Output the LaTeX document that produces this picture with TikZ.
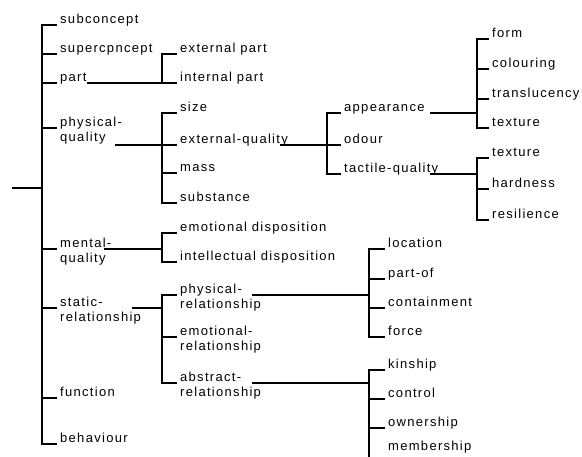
\documentclass[tikz,border=0pt]{standalone}
\usepackage{fontspec}
\newfontfamily\lblfont{Liberation Sans}[LetterSpace=10]
\tikzset{
  lbl/.style={anchor=base west, inner sep=0pt, font=\lblfont\fontsize{13}{15}\selectfont},
  ln/.style={line width=1.5pt},
}
\newcommand\mylab[4]{%
  \coordinate (#1-t) at ({#2-3},{#3});
  \node[lbl] (#1) at ({#2},{#3-1.5}) {#4};}
\newcommand\mylabb[4]{%
  \node[lbl] (#1) at ({#2},{#3}) {#4};}
\begin{document}
\begin{tikzpicture}[x=1pt,y=-1pt]
\useasboundingbox (0,0) rectangle (582,456);
\coordinate (s0) at (42,0);
\coordinate (sA) at (162,0);
\coordinate (sC) at (327,0);
\coordinate (sH) at (369,0);
\coordinate (sD) at (477,0);
\coordinate (root) at (12,188);

% level 1
\mylab{sub}{60}{25}{subconcept}
\mylab{sup}{60}{54}{supercpncept}
\mylab{part}{60}{83}{part}
\mylab{phq}{60}{128}{physical-}
\mylabb{phqb}{60}{141.5}{quality}
\mylab{mq}{60}{249}{mental-}
\mylabb{mqb}{60}{262.5}{quality}
\mylab{sr}{60}{308}{static-}
\mylabb{srb}{60}{321.5}{relationship}
\mylab{fun}{60}{398}{function}
\mylab{beh}{60}{444}{behaviour}

% level 2
\mylab{ext}{180}{54}{external part}
\mylab{int}{180}{83}{internal part}
\mylab{size}{180}{113}{size}
\mylab{eq}{180}{145}{external-quality}
\mylab{mass}{180}{173}{mass}
\mylab{subst}{180}{203}{substance}
\mylab{ed}{180}{233}{emotional disposition}
\mylab{id}{180}{262}{intellectual disposition}
\mylab{pr}{180}{295}{physical-}
\mylabb{prb}{180}{308.5}{relationship}
\mylab{er}{180}{337}{emotional-}
\mylabb{erb}{180}{350.5}{relationship}
\mylab{ar}{180}{383}{abstract-}
\mylabb{arb}{180}{396.5}{relationship}

% level 3
\mylab{app}{344}{113}{appearance}
\mylab{od}{344}{145}{odour}
\mylab{tq}{344}{174}{tactile-quality}
\mylab{loc}{388}{249}{location}
\mylab{po}{388}{279}{part-of}
\mylab{cont}{388}{308}{containment}
\mylab{force}{388}{337}{force}
\mylab{kin}{388}{370}{kinship}
\mylab{ctrl}{388}{399}{control}
\mylab{own}{388}{428}{ownership}
\coordinate (mem-t) at (385,459);
\node[lbl] (mem) at (388,450.5) {membership};

% level 4
\mylab{form}{492}{39}{form}
\mylab{col}{492}{69}{colouring}
\mylab{trans}{492}{99}{translucency}
\mylab{texa}{492}{128}{texture}
\mylab{texb}{492}{158}{texture}
\mylab{hard}{492}{189}{hardness}
\mylab{res}{492}{220}{resilience}

% connector start points
\coordinate (phq-o) at (115,145);
\coordinate (mq-o) at (104,249);
\coordinate (sr-o) at (132,308);
\coordinate (eq-o) at (280,145);
\coordinate (app-o) at (430,113);
\coordinate (tq-o) at (430,174);
\coordinate (pr-o) at (252,295);
\coordinate (ar-o) at (252,383);

% main bracket
\draw[ln] (root) -- (s0 |- root);
\draw[ln] (sub-t) -| (s0 |- beh-t) -- (beh-t);
\foreach \n in {sup,part,phq,mq,sr,fun} \draw[ln] (s0 |- \n-t) -- (\n-t);

% part
\draw[ln] (ext-t) -| (sA |- int-t) -- (int-t);
\draw[ln] (part.east |- part-t) -- (sA |- part-t);
% physical-quality
\draw[ln] (size-t) -| (sA |- subst-t) -- (subst-t);
\foreach \n in {eq,mass} \draw[ln] (sA |- \n-t) -- (\n-t);
\draw[ln] (phq-o) -- (sA |- phq-o);
% mental-quality
\draw[ln] (ed-t) -| (sA |- id-t) -- (id-t);
\draw[ln] (mq-o) -- (sA |- mq-o);
% static-relationship
\draw[ln] (pr-t) -| (sA |- ar-t) -- (ar-t);
\draw[ln] (sA |- er-t) -- (er-t);
\draw[ln] (sr-o) -- (sA |- sr-o);
% external-quality
\draw[ln] (app-t) -| (sC |- tq-t) -- (tq-t);
\draw[ln] (sC |- od-t) -- (od-t);
\draw[ln] (eq-o) -- (sC |- eq-o);
% appearance
\draw[ln] (form-t) -| (sD |- texa-t) -- (texa-t);
\foreach \n in {col,trans} \draw[ln] (sD |- \n-t) -- (\n-t);
\draw[ln] (app-o) -- (sD |- app-o);
% tactile-quality
\draw[ln] (texb-t) -| (sD |- res-t) -- (res-t);
\draw[ln] (sD |- hard-t) -- (hard-t);
\draw[ln] (tq-o) -- (sD |- tq-o);
% physical-relationship
\draw[ln] (loc-t) -| (sH |- force-t) -- (force-t);
\foreach \n in {po,cont} \draw[ln] (sH |- \n-t) -- (\n-t);
\draw[ln] (pr-o) -- (sH |- pr-o);
% abstract-relationship
\draw[ln] (kin-t) -| (sH |- mem-t) -- (mem-t);
\foreach \n in {ctrl,own} \draw[ln] (sH |- \n-t) -- (\n-t);
\draw[ln] (ar-o) -- (sH |- ar-o);
\end{tikzpicture}
\end{document}
